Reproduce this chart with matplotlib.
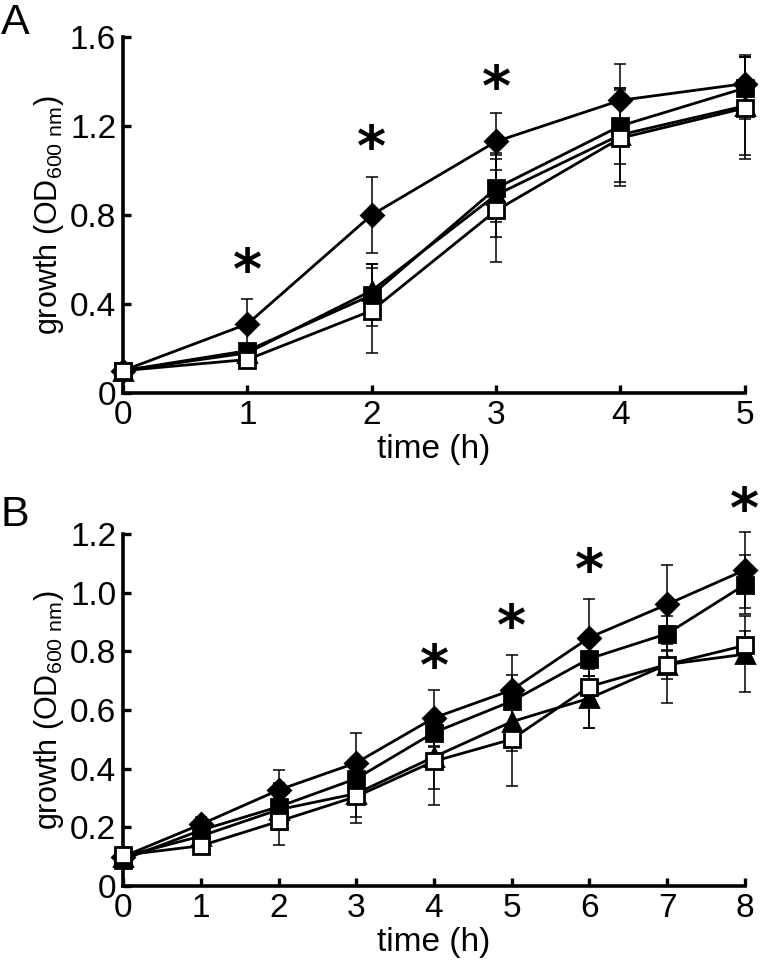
import matplotlib
matplotlib.use("Agg")
import matplotlib.pyplot as plt
from matplotlib import font_manager

names = {f.name for f in font_manager.fontManager.ttflist}
fam = [n for n in ["Liberation Sans Narrow", "Liberation Sans", "DejaVu Sans"] if n in names]
plt.rcParams['font.family'] = fam
plt.rcParams['mathtext.fontset'] = 'custom'
plt.rcParams['mathtext.rm'] = fam[0]

# ---------------- Panel A data ----------------
time_a = [0, 1, 2, 3, 4, 5]
a_diamond = [0.10, 0.31, 0.80, 1.13, 1.315, 1.39]
a_diamond_err = [0.0, 0.11, 0.17, 0.13, 0.165, 0.13]
a_fsquare = [0.10, 0.19, 0.44, 0.92, 1.20, 1.37]
a_fsquare_err = [0.0, 0.03, 0.14, 0.15, 0.17, 0.14]
a_triangle = [0.10, 0.18, 0.46, 0.89, 1.16, 1.29]
a_triangle_err = [0.0, 0.03, 0.12, 0.19, 0.21, 0.22]
a_osquare = [0.10, 0.15, 0.37, 0.82, 1.145, 1.28]
a_osquare_err = [0.0, 0.03, 0.19, 0.23, 0.215, 0.23]
a_star_t = [1, 2, 3]
a_star_y = [0.54, 1.09, 1.36]
a_yticks = [0, 0.4, 0.8, 1.2, 1.6]
a_yticklabels = ["0", "0.4", "0.8", "1.2", "1.6"]

# ---------------- Panel B data ----------------
time_b = [0, 1, 2, 3, 4, 5, 6, 7, 8]
b_diamond = [0.10, 0.21, 0.327, 0.42, 0.573, 0.668, 0.847, 0.96, 1.077]
b_diamond_err = [0.0, 0.025, 0.07, 0.10, 0.095, 0.12, 0.13, 0.135, 0.13]
b_fsquare = [0.09, 0.19, 0.27, 0.366, 0.523, 0.63, 0.775, 0.86, 1.027]
b_fsquare_err = [0.0, 0.02, 0.08, 0.06, 0.05, 0.09, 0.06, 0.06, 0.10]
b_triangle = [0.10, 0.17, 0.26, 0.315, 0.44, 0.56, 0.64, 0.755, 0.79]
b_triangle_err = [0.0, 0.02, 0.06, 0.08, 0.11, 0.10, 0.10, 0.05, 0.13]
b_osquare = [0.105, 0.137, 0.22, 0.305, 0.425, 0.50, 0.68, 0.755, 0.82]
b_osquare_err = [0.0, 0.02, 0.08, 0.09, 0.15, 0.16, 0.14, 0.13, 0.05]
b_star_t = [4, 5, 6, 8]
b_star_y = [0.74, 0.875, 1.066, 1.275]
b_yticks = [0, 0.2, 0.4, 0.6, 0.8, 1.0, 1.2]
b_yticklabels = ["0", "0.2", "0.4", "0.6", "0.8", "1.0", "1.2"]

fig = plt.figure(figsize=(7.6, 9.63), dpi=100)
axA = fig.add_axes([0.162, 0.592, 0.818, 0.3697])
axB = fig.add_axes([0.162, 0.080, 0.818, 0.3655])


def draw(ax, t, series, xmax, ymax, yticks, yticklabels, stars_t, stars_y):
    for (y, e, marker, face, ms, z) in series:
        ax.errorbar(t, y, yerr=e, fmt='none', ecolor='black', elinewidth=1.1,
                    capsize=4, capthick=1.1, zorder=z - 1, clip_on=False)
    for (y, e, marker, face, ms, z) in series:
        ax.plot(t, y, color='black', lw=2.0, marker=marker, markersize=ms,
                markerfacecolor=face, markeredgecolor='black', markeredgewidth=2.0,
                zorder=z, clip_on=False)
    for st, sy in zip(stars_t, stars_y):
        ax.text(st, sy, "*", ha='center', va='center', fontsize=40,
                fontweight='bold', family=['DejaVu Sans'], clip_on=False)
    ax.set_xlim(0, xmax)
    ax.set_ylim(0, ymax)
    ax.set_xticks(range(0, xmax + 1))
    ax.set_yticks(yticks)
    ax.set_yticklabels(yticklabels)
    for s in ['top', 'right']:
        ax.spines[s].set_visible(False)
    for s in ['left', 'bottom']:
        ax.spines[s].set_linewidth(2.6)
    ax.tick_params(direction='in', length=6, width=2.4, labelsize=24, pad=5)
    ax.set_xlabel("time (h)", fontsize=24, labelpad=2)
    ax.set_ylabel(r"growth (OD$_{\mathregular{600\ nm}}$)", fontsize=22, labelpad=3)


draw(axA, time_a, [(a_diamond, a_diamond_err, 'D', 'black', 11, 6),
                   (a_triangle, a_triangle_err, '^', 'black', 13, 7),
                   (a_fsquare, a_fsquare_err, 's', 'black', 12, 8),
                   (a_osquare, a_osquare_err, 's', 'white', 12, 9)],
     5, 1.6, a_yticks, a_yticklabels, a_star_t, a_star_y)

draw(axB, time_b, [(b_diamond, b_diamond_err, 'D', 'black', 11, 6),
                   (b_triangle, b_triangle_err, '^', 'black', 13, 7),
                   (b_fsquare, b_fsquare_err, 's', 'black', 12, 8),
                   (b_osquare, b_osquare_err, 's', 'white', 12, 9)],
     8, 1.2, b_yticks, b_yticklabels, b_star_t, b_star_y)

fig.text(0.001, 0.997, "A", fontsize=31, ha='left', va='top')
fig.text(0.001, 0.486, "B", fontsize=31, ha='left', va='top')

fig.savefig("out.png", dpi=100)
